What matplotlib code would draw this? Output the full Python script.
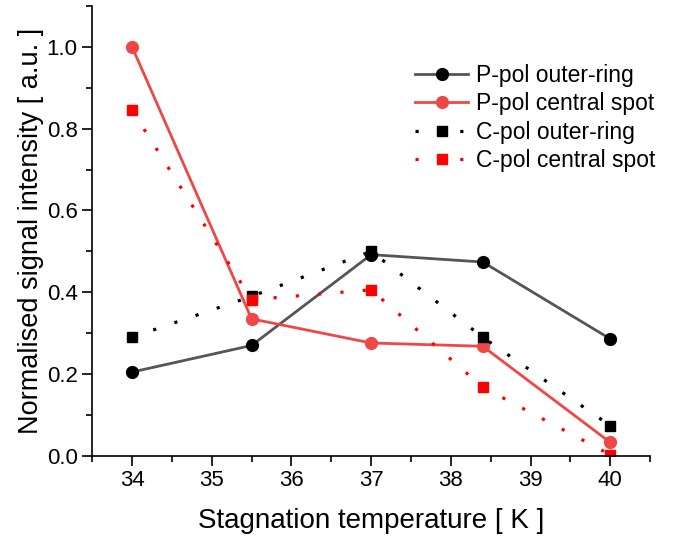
import matplotlib.pyplot as plt
from matplotlib.ticker import MultipleLocator

plt.rcParams['font.family'] = ['Liberation Sans', 'DejaVu Sans']

# stagnation temperature [K]
temps = [34, 35.5, 37, 38.4, 40]

# normalised signal intensities
p_outer = [0.205, 0.270, 0.492, 0.474, 0.286]
p_central = [1.000, 0.335, 0.276, 0.268, 0.033]
c_outer = [0.290, 0.390, 0.500, 0.290, 0.074]
c_central = [0.845, 0.382, 0.406, 0.168, 0.003]

fig = plt.figure(figsize=(6.73, 5.37), dpi=100)
ax = fig.add_axes([0.137, 0.151, 0.829, 0.838])

ax.plot(temps, p_outer, color='#555555', lw=2, marker='o', ms=8.5,
        mfc='black', mec='black', label='P-pol outer-ring')
ax.plot(temps, p_central, color='#f04646', lw=2, marker='o', ms=8.5,
        mfc='#f04646', mec='#f04646', label='P-pol central spot')
ax.plot(temps, c_outer, color='black', lw=2.3, ls=(0, (1, 6)), marker='s', ms=7,
        mfc='black', mec='black', label='C-pol outer-ring')
ax.plot(temps, c_central, color='red', lw=2.3, ls=(0, (1, 6)), marker='s', ms=7,
        mfc='red', mec='red', label='C-pol central spot')

ax.set_xlim(33.5, 40.5)
ax.set_ylim(0, 1.1)
ax.xaxis.set_major_locator(MultipleLocator(1))
ax.xaxis.set_minor_locator(MultipleLocator(0.5))
ax.yaxis.set_major_locator(MultipleLocator(0.2))
ax.yaxis.set_minor_locator(MultipleLocator(0.1))
ax.yaxis.set_major_formatter(plt.FormatStrFormatter('%.1f'))

for side in ['top', 'right']:
    ax.spines[side].set_visible(False)
for side in ['left', 'bottom']:
    ax.spines[side].set_linewidth(1.2)

ax.tick_params(which='major', direction='out', length=7, width=1.2, labelsize=16)
ax.tick_params(which='minor', direction='out', length=4, width=1.2)

ax.set_xlabel('Stagnation temperature [ K ]', fontsize=20, labelpad=12)
ax.set_ylabel('Normalised signal intensity [ a.u. ]', fontsize=19.5, labelpad=2)

ax.legend(loc='upper left', bbox_to_anchor=(0.579, 0.871), frameon=False,
          fontsize=16.5, handlelength=2.3, handletextpad=0.35, labelspacing=0.24,
          borderpad=0, borderaxespad=0)

fig.savefig('out.png', dpi=100)
